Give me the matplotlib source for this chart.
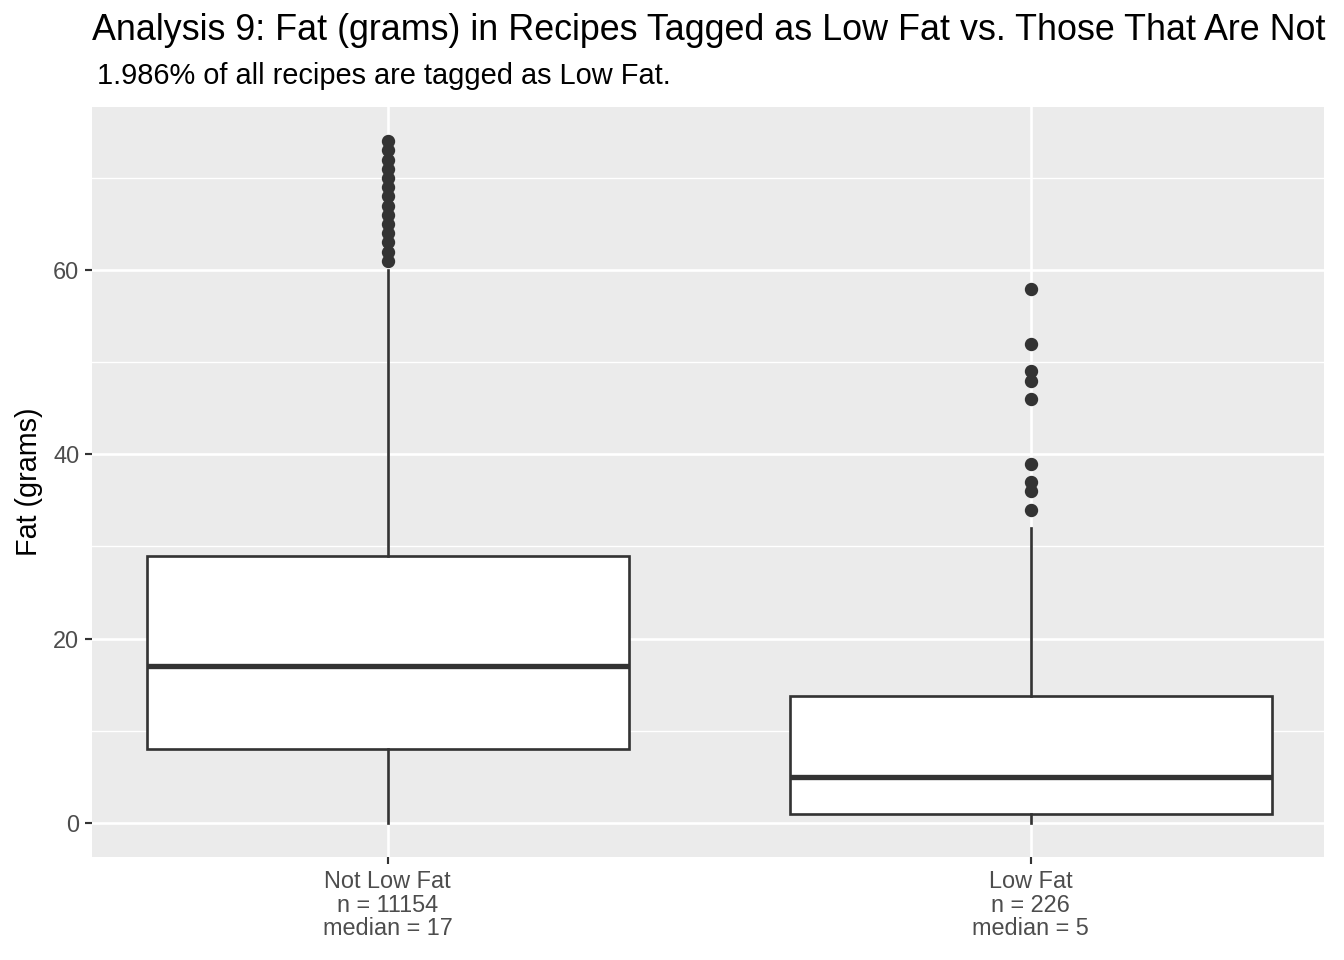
import numpy as np
import matplotlib
matplotlib.use("Agg")
import matplotlib.pyplot as plt

plt.rcParams['font.family'] = ['Liberation Sans', 'DejaVu Sans']

# summary stats
groups = ["Not Low Fat", "Low Fat"]
counts = [11154, 226]
medians = [17, 5]
q1 = [8, 1]
q3 = [29, 13.75]
whisker_lo = [0, 0]
whisker_hi = [60, 32]
outliers_not_low = [61, 62, 63, 64, 65, 66, 67, 68, 69, 70, 71, 72, 73, 74]
outliers_low = [34, 36, 37, 39, 46, 48, 49, 52, 58]
fliers = [outliers_not_low, outliers_low]

tick_labels = [f"{g}\nn = {n}\nmedian = {m}" for g, n, m in zip(groups, counts, medians)]

stats = []
for i in range(len(groups)):
    stats.append({
        "med": medians[i], "q1": q1[i], "q3": q3[i],
        "whislo": whisker_lo[i], "whishi": whisker_hi[i],
        "fliers": fliers[i], "label": tick_labels[i],
    })

fig = plt.figure(figsize=(7, 5), dpi=192)
ax = fig.add_axes([92/1344, 1 - 857/960, (1324-92)/1344, (857-107)/960])
ax.set_facecolor("#EBEBEB")

dark = "#333333"
ax.bxp(stats, positions=[1, 2], widths=0.75, patch_artist=True, showcaps=False,
       boxprops=dict(facecolor="white", edgecolor=dark, linewidth=1.0),
       whiskerprops=dict(color=dark, linewidth=1.0),
       medianprops=dict(color=dark, linewidth=2.0, solid_capstyle="butt"),
       flierprops=dict(marker="o", markerfacecolor=dark, markeredgecolor=dark,
                       markersize=4.0, linestyle="none"),
       zorder=3)

ax.set_xlim(0.54, 2.456)
ax.set_ylim(-3.7, 77.7)
ax.set_yticks([0, 20, 40, 60])
ax.set_yticks([10, 30, 50, 70], minor=True)
ax.set_xticks([1, 2])
ax.set_xticklabels(tick_labels, linespacing=1.05)

ax.grid(True, which="major", color="white", linewidth=1.0)
ax.grid(True, which="minor", axis="y", color="white", linewidth=0.5)
ax.set_axisbelow(True)
for s in ax.spines.values():
    s.set_visible(False)

ax.tick_params(axis="both", which="major", length=2.75, width=0.8, color=dark,
               labelsize=8.8, labelcolor="#4D4D4D", pad=2)
ax.tick_params(axis="y", which="minor", length=0)

ax.set_ylabel("Fat (grams)", fontsize=10.8, labelpad=4)

fig.text(92/1344, 1 - 30/960, "Analysis 9: Fat (grams) in Recipes Tagged as Low Fat vs. Those That Are Not",
         fontsize=13.44, ha="left", va="center")
fig.text(97/1344, 1 - 76/960, "1.986% of all recipes are tagged as Low Fat.",
         fontsize=10.9, ha="left", va="center")

fig.savefig("out.png", dpi=192)
